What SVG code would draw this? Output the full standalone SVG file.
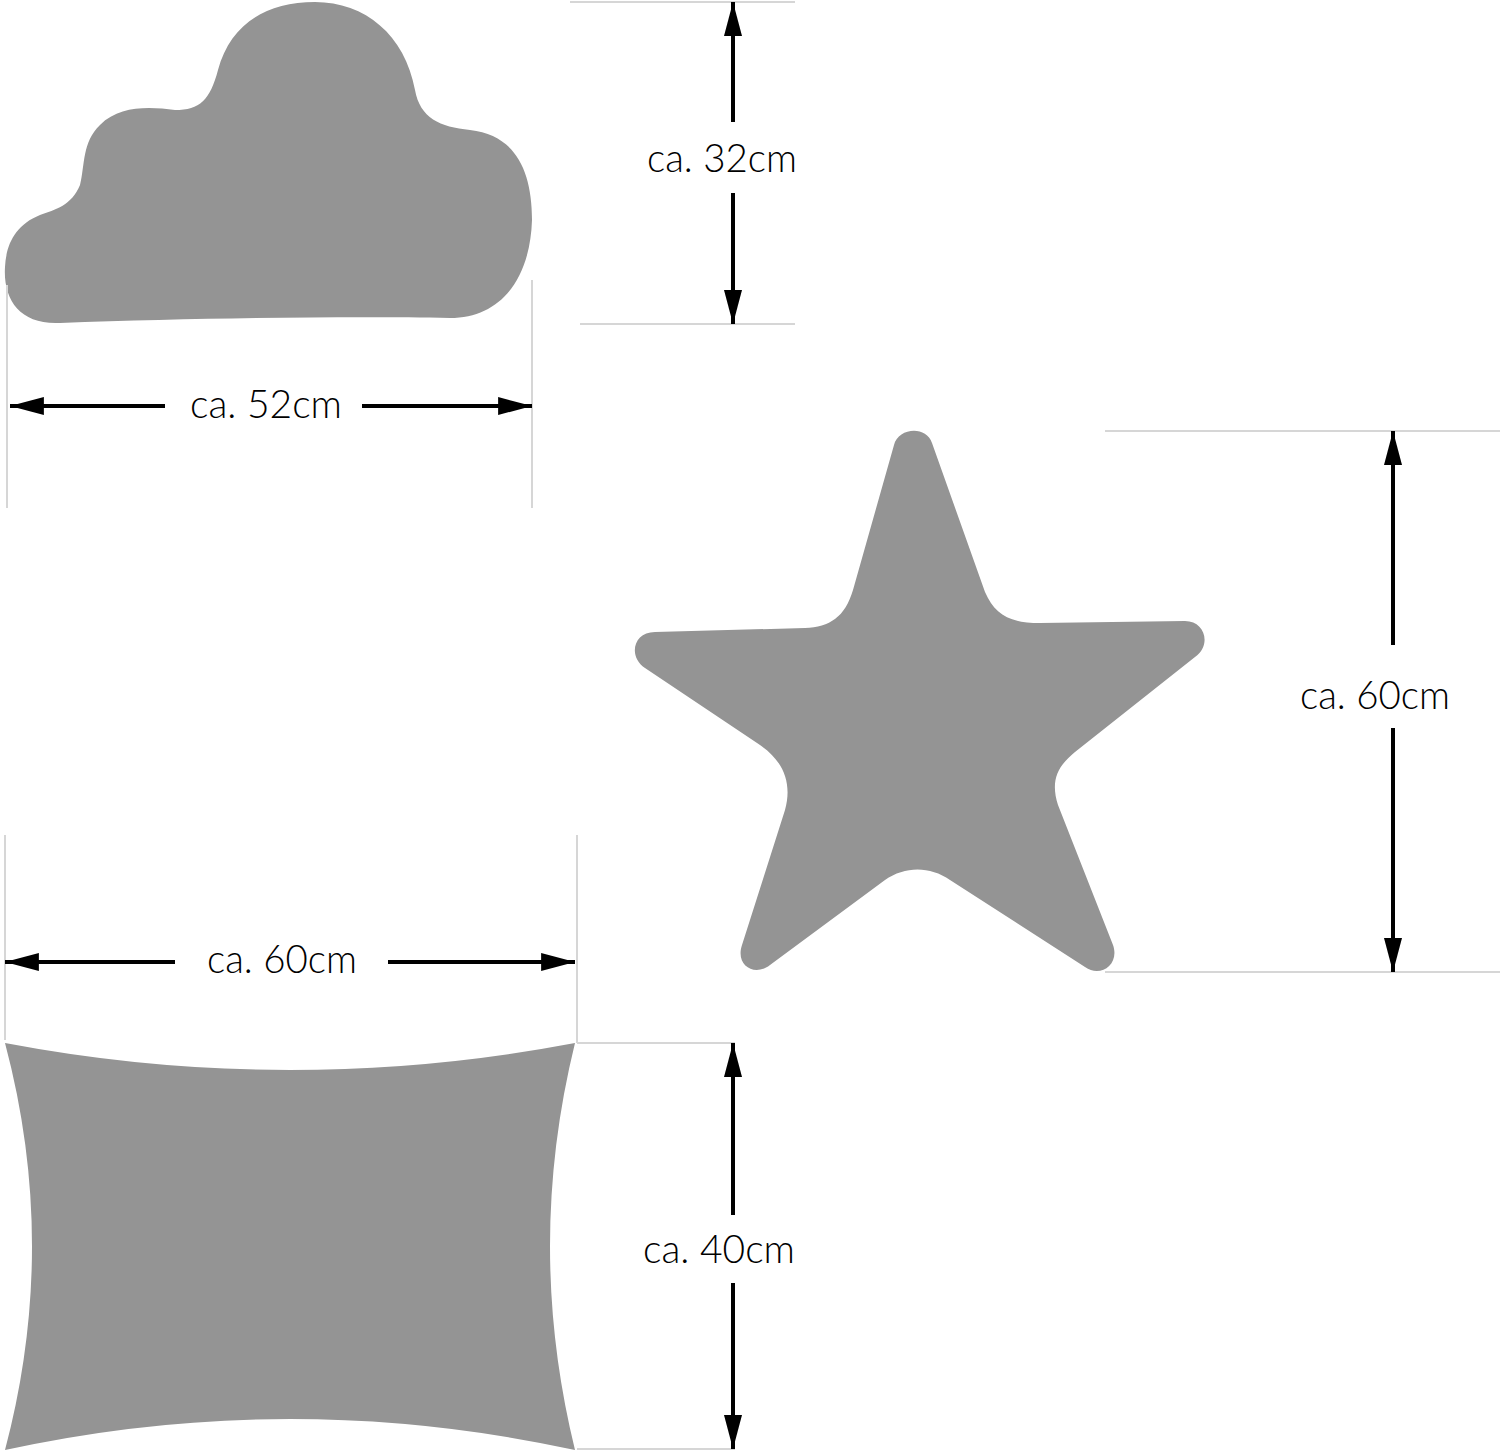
<svg xmlns="http://www.w3.org/2000/svg" width="1500" height="1453" viewBox="0 0 1500 1453">
<style>
.shape{fill:#949494}
.ext{stroke:#d6d6d6;stroke-width:2;fill:none}
.dim{stroke:#000;stroke-width:4;fill:none;marker-end:url(#ah)}
.lbl{font-family:"DejaVu Sans ExtraLight","Lato Light","Roboto Light","Open Sans Light",Inter,"Liberation Sans",sans-serif;font-weight:200;font-size:40px;fill:#000}
</style>
<defs>
<marker id="ah" markerUnits="userSpaceOnUse" markerWidth="34" markerHeight="18" refX="32" refY="8.5" orient="auto" viewBox="0 0 32 17">
<path d="M0,0 L32,8.5 L0,17 Z" fill="#000"/>
</marker>
</defs>
<rect width="1500" height="1453" fill="#fff"/>
<g id="cloud">
<path class="shape" d="M5,267 C3,300 20,325 60,323 C200,318 350,316 450,318 C500,318 530,280 532,220 C532,170 515,135 470,130 C440,127 420,118 415,90 C405,35 365,2 315,2 C265,2 230,25 218,70 C210,100 200,110 175,110 C150,107 120,105 100,125 C82,142 85,165 80,185 C72,205 55,210 40,215 C15,225 6,245 5,267 Z"/>
</g>
<g id="star">
<path class="shape" d="M894,445 C898,428 926,425 932,443 L985,592 C995,615 1010,623 1040,623 L1185,621 C1205,621 1212,645 1195,657 L1075,752 C1058,766 1050,780 1058,805 L1113,945 C1120,965 1100,978 1085,967 L950,880 C930,866 905,866 885,880 L770,965 C755,977 735,966 742,945 L785,810 C792,785 785,762 760,745 L645,668 C628,657 633,632 655,632 L805,628 C830,627 845,617 853,590 L894,445 Z"/>
</g>
<g id="pillow">
<path class="shape" d="M5,1043 Q290,1097 575,1043 Q525,1246 575,1450 Q290,1388 5,1450 Q59,1246 5,1043 Z"/>
</g>
<g id="connectors">
<line class="ext" x1="7" y1="285" x2="7" y2="508"/>
<line class="ext" x1="532" y1="280" x2="532" y2="508"/>
<line class="dim" x1="165" y1="406" x2="10" y2="406"/>
<line class="dim" x1="362" y1="406" x2="532" y2="406"/>
<line class="ext" x1="570" y1="2" x2="795" y2="2"/>
<line class="ext" x1="580" y1="324" x2="795" y2="324"/>
<line class="dim" x1="733" y1="122" x2="733" y2="2"/>
<line class="dim" x1="733" y1="193" x2="733" y2="324"/>
<line class="ext" x1="1105" y1="431" x2="1500" y2="431"/>
<line class="ext" x1="1105" y1="972" x2="1500" y2="972"/>
<line class="dim" x1="1393" y1="645" x2="1393" y2="431"/>
<line class="dim" x1="1393" y1="728" x2="1393" y2="972"/>
<line class="ext" x1="5" y1="835" x2="5" y2="1040"/>
<line class="ext" x1="577" y1="835" x2="577" y2="1043"/>
<line class="dim" x1="175" y1="962" x2="5" y2="962"/>
<line class="dim" x1="388" y1="962" x2="575" y2="962"/>
<line class="ext" x1="577" y1="1043" x2="735" y2="1043"/>
<line class="ext" x1="577" y1="1449" x2="735" y2="1449"/>
<line class="dim" x1="733" y1="1215" x2="733" y2="1043"/>
<line class="dim" x1="733" y1="1283" x2="733" y2="1449"/>
</g>
<g id="labels">
<text class="lbl" x="647" y="172" textLength="150" lengthAdjust="spacingAndGlyphs">ca. 32cm</text>
<text class="lbl" x="190" y="418" textLength="152" lengthAdjust="spacingAndGlyphs">ca. 52cm</text>
<text class="lbl" x="1300" y="709" textLength="150" lengthAdjust="spacingAndGlyphs">ca. 60cm</text>
<text class="lbl" x="207" y="973" textLength="150" lengthAdjust="spacingAndGlyphs">ca. 60cm</text>
<text class="lbl" x="643" y="1263" textLength="152" lengthAdjust="spacingAndGlyphs">ca. 40cm</text>
</g>
</svg>
